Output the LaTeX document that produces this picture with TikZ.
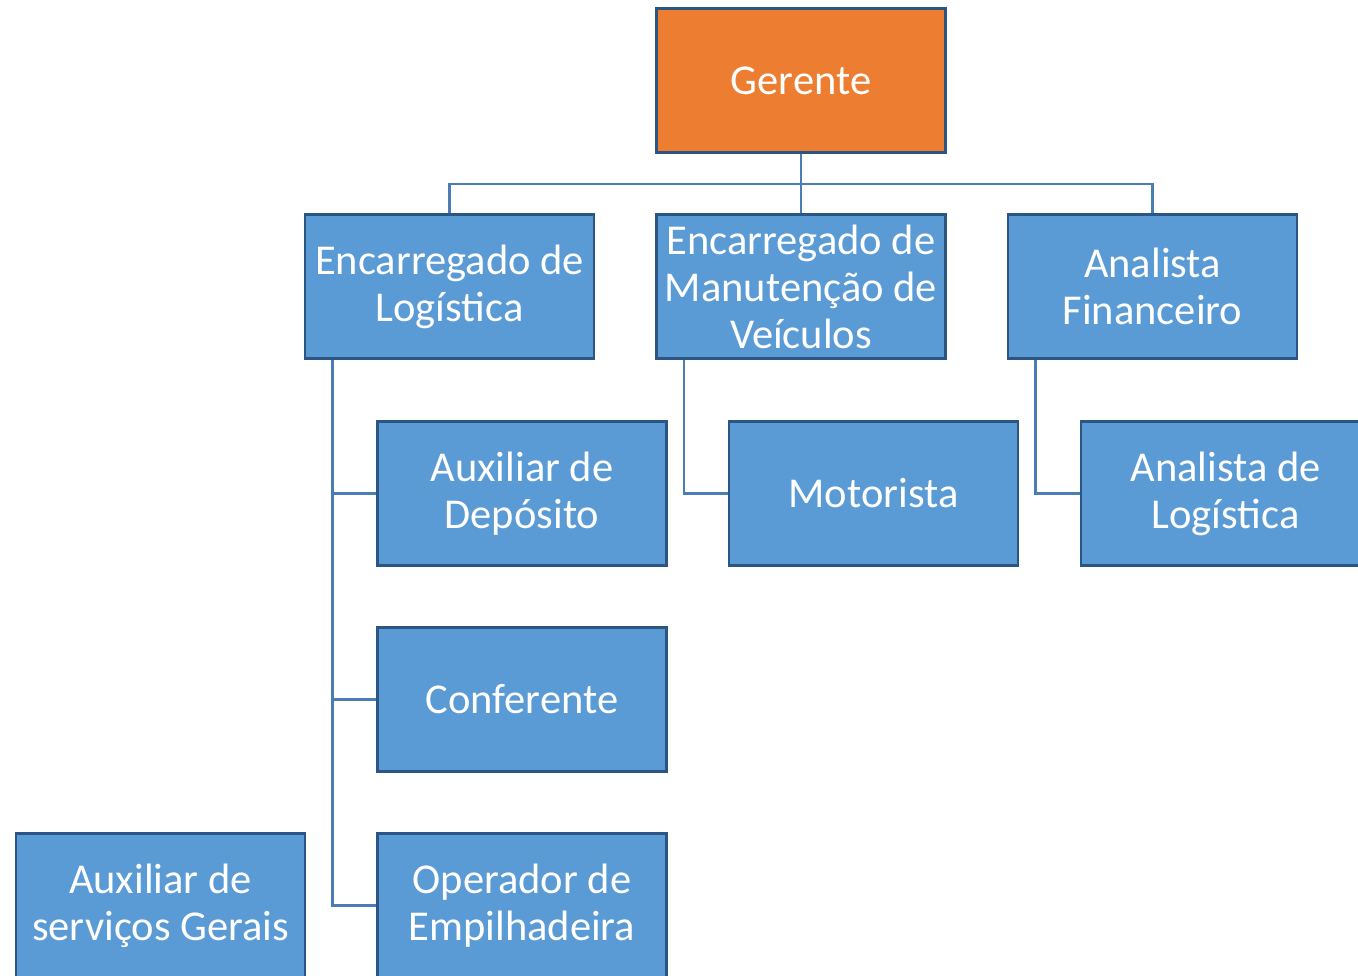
\documentclass[tikz,border=0pt]{standalone}
\usepackage{fontspec}
\setmainfont{Carlito}
\usepackage{tikz}
\usetikzlibrary{positioning}
\definecolor{boxblue}{HTML}{5B9BD5}
\definecolor{boxorange}{HTML}{ED7D31}
\definecolor{boxline}{HTML}{2B5683}
\definecolor{linkblue}{HTML}{4A7DB5}
\tikzset{
	cargo/.style={draw=boxline, line width=2.8pt, fill=boxblue, text=white, align=center,
		minimum width=289pt, minimum height=144pt, inner sep=0pt,
		font=\fontsize{42.5}{47}\selectfont},
	link/.style={draw=linkblue, line width=2.5pt}
}
\begin{document}
\begin{tikzpicture}[x=1pt, y=-1pt]
	\useasboundingbox (0,0) rectangle (1358,975);
	\node[cargo, fill=boxorange] (ger) at (801,80.5) {Gerente};
	\node[cargo] (encLog) at (449.5,286.5) {Encarregado de\\Logística};
	\node[cargo] (encMan) at (801,286.5) {Encarregado de\\Manutenção de\\Veículos};
	\node[cargo] (anaFin) at (1152.5,286.5) {Analista\\Financeiro};
	\node[cargo] (auxDep) at (522,493.5) {Auxiliar de\\Depósito};
	\node[cargo] (conf) at (522,699.5) {Conferente};
	\node[cargo] (opEmp) at (522,905.5) {Operador de\\Empilhadeira};
	\node[cargo] (motor) at (873.5,493.5) {Motorista};
	\node[cargo] (anaLog) at (1225.5,493.5) {Analista de\\Logística};
	\node[cargo] (auxServ) at (160.5,905.5) {Auxiliar de\\serviços Gerais};
	
	% ligacoes
	\coordinate (bus) at (801,184);
	\draw[link] (ger.south) -- (bus);
	\draw[link] (encLog.north) |- (bus) -| (anaFin.north);
	\draw[link] (bus) -- (encMan.north);
	\coordinate (tLog) at ([xshift=29pt]encLog.south west);
	\coordinate (tMan) at ([xshift=29pt]encMan.south west);
	\coordinate (tFin) at ([xshift=29pt]anaFin.south west);
	\draw[link] (tLog) |- (auxDep.west);
	\draw[link] (tLog) |- (conf.west);
	\draw[link] (tLog) |- (opEmp.west);
	\draw[link] (tMan) |- (motor.west);
	\draw[link] (tFin) |- (anaLog.west);
\end{tikzpicture}
\end{document}
